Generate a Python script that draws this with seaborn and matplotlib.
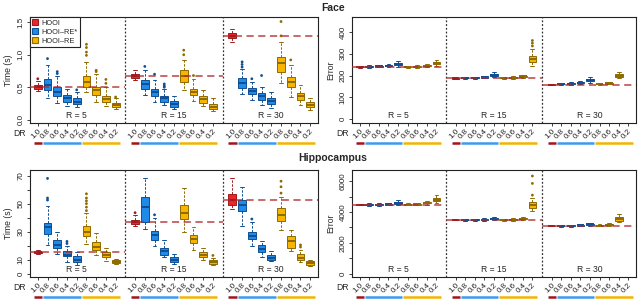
import numpy as np
import pandas as pd
import matplotlib
matplotlib.use("Agg")
import matplotlib.pyplot as plt
import seaborn as sns
from matplotlib.patches import Patch
from matplotlib.transforms import blended_transform_factory

nan = np.nan

# ---------------- categories ----------------
methods = ["HOOI", "HOOI\u2013RE*", "HOOI\u2013RE"]
box_method = [0, 1, 1, 1, 1, 2, 2, 2, 2]
dr_labels = ["1.0", "0.8", "0.6", "0.4", "0.2", "0.8", "0.6", "0.4", "0.2"]
ranks = [5, 15, 30]

# ---------------- Face : time (s) ----------------
face_time_lo = [0.44, 0.33, 0.25, 0.21, 0.19, 0.43, 0.28, 0.21, 0.16,
                0.61, 0.38, 0.28, 0.23, 0.16, 0.46, 0.29, 0.21, 0.14,
                1.195, 0.39, 0.305, 0.23, 0.18, 0.56, 0.355, 0.23, 0.15]
face_time_q1 = [0.47, 0.45, 0.37, 0.28, 0.245, 0.50, 0.38, 0.27, 0.195,
                0.645, 0.47, 0.37, 0.28, 0.20, 0.585, 0.38, 0.265, 0.165,
                1.25, 0.49, 0.39, 0.305, 0.24, 0.74, 0.51, 0.305, 0.19]
face_time_med = [0.50, 0.53, 0.43, 0.33, 0.28, 0.585, 0.45, 0.32, 0.23,
                 0.675, 0.545, 0.42, 0.33, 0.245, 0.67, 0.43, 0.315, 0.20,
                 1.29, 0.56, 0.44, 0.36, 0.29, 0.865, 0.585, 0.36, 0.23]
face_time_q3 = [0.54, 0.62, 0.51, 0.38, 0.33, 0.67, 0.51, 0.37, 0.265,
                0.71, 0.61, 0.47, 0.37, 0.29, 0.76, 0.48, 0.36, 0.245,
                1.34, 0.64, 0.49, 0.41, 0.34, 0.97, 0.66, 0.41, 0.27]
face_time_hi = [0.60, 0.84, 0.68, 0.48, 0.43, 0.89, 0.70, 0.50, 0.33,
                0.76, 0.76, 0.61, 0.48, 0.36, 0.92, 0.62, 0.46, 0.33,
                1.39, 0.78, 0.585, 0.51, 0.42, 1.195, 0.84, 0.53, 0.33]
face_time_fliers = [[0.63], [0.94], [0.71, 0.74], [], [0.46], [0.99, 1.04, 1.11, 1.16], [0.74, 0.76], [0.56, 0.62], [0.35],
                    [], [0.82], [0.70], [0.50, 0.52, 0.55], [], [1.0, 1.07], [0.68], [], [],
                    [], [0.81, 0.85, 0.89], [0.63], [0.68], [], [1.29, 1.51], [0.92], [], []]

# ---------------- Face : error ----------------
face_err_lo = [236, 236, 237, 239, 240, 235, 236, 238, 243,
               185, 185, 186, 187, 192, 185, 186, 190, 245,
               156, 157, 158, 161, 168, 157, 159, 188, nan]
face_err_q1 = [237, 239, 240, 242, 247, 237, 239, 242, 251,
               186, 187, 188, 190, 199, 187, 189, 193, 261,
               157, 159, 161, 165, 175, 159, 162, 195, nan]
face_err_med = [238, 241, 242, 245, 252, 239, 241, 245, 257,
                187, 189, 190, 193, 203, 189, 191, 196, 276,
                158, 161, 163, 168, 180, 161, 165, 200, nan]
face_err_q3 = [239, 243, 244, 248, 257, 241, 243, 248, 263,
               188, 191, 192, 196, 207, 191, 193, 199, 288,
               159, 163, 165, 171, 185, 163, 168, 205, nan]
face_err_hi = [240, 247, 249, 254, 265, 244, 247, 254, 272,
               189, 193, 195, 200, 215, 193, 197, 203, 322,
               160, 166, 169, 176, 192, 165, 172, 218, nan]
face_err_fliers = [[], [], [], [], [], [], [], [], [],
                   [], [], [], [], [], [], [], [], [336, 349, 361],
                   [], [], [], [], [], [], [], [], []]

# ---------------- Hippocampus : time (s) ----------------
hippo_time_lo = [14, 20.6, 14, 8.5, 6, 21, 13, 9, 7,
                 34, 32, 20, 12, 7, 30, 17, 10, 6,
                 46, 34, 20, 12, 9, 31, 16, 8, 5.5]
hippo_time_q1 = [14.6, 28, 18.3, 12.3, 8.3, 27, 17, 11.9, 7.6,
                 35.5, 37, 24.2, 13.5, 8.3, 39, 21.8, 11.9, 6.9,
                 49, 45, 24.7, 15.4, 10, 37.7, 18.3, 9.5, 6]
hippo_time_med = [15.2, 33, 20.5, 13.5, 10, 30, 19, 13, 8.5,
                  37, 47.5, 27.5, 16, 10, 43, 24.5, 13.2, 8.3,
                  52.5, 49, 27, 17.5, 11.5, 42, 23, 11.5, 7.3]
hippo_time_q3 = [15.8, 36.5, 24, 16, 12.3, 34, 22.5, 15.4, 9.6,
                 38.5, 55, 30.6, 18.3, 12, 49, 27.8, 15.4, 9.6,
                 57, 52.7, 29.4, 20.6, 13.5, 46.7, 26.6, 14, 8.8]
hippo_time_hi = [16.6, 48, 29.5, 20, 15.5, 43, 29, 18, 10.5,
                 42, 68, 39.5, 24, 14, 61, 33, 18, 11,
                 68, 62, 37, 23, 16, 55, 31, 17, 9.8]
hippo_time_fliers = [[], [52.5, 54, 68], [], [21.5, 23], [], [45, 47.5, 50, 52, 54, 57], [], [], [],
                     [43.5], [], [42], [], [], [], [], [], [13],
                     [], [], [39], [], [], [57.5, 62, 66], [], [19, 20.5], []]

# ---------------- Hippocampus : error ----------------
hippo_err_lo = [4430, 4400, 4410, 4420, 4430, 4420, 4440, 4470, 4600,
                3450, 3420, 3430, 3440, 3460, 3430, 3440, 3470, 4090,
                3060, 3040, 3050, 3070, 3100, 3060, 3090, 3330, nan]
hippo_err_q1 = [4450, 4440, 4450, 4470, 4520, 4450, 4480, 4550, 4710,
                3465, 3455, 3465, 3475, 3515, 3465, 3480, 3525, 4250,
                3075, 3070, 3085, 3110, 3160, 3095, 3130, 3440, nan]
hippo_err_med = [4467, 4470, 4480, 4500, 4570, 4480, 4510, 4590, 4800,
                 3480, 3480, 3490, 3500, 3550, 3490, 3510, 3560, 4420,
                 3090, 3095, 3110, 3140, 3190, 3120, 3160, 3540, nan]
hippo_err_q3 = [4485, 4500, 4510, 4530, 4620, 4510, 4540, 4640, 4900,
                3495, 3505, 3515, 3530, 3585, 3515, 3540, 3600, 4640,
                3105, 3120, 3135, 3170, 3225, 3145, 3195, 3650, nan]
hippo_err_hi = [4500, 4560, 4570, 4600, 4760, 4560, 4600, 4720, 5070,
                3510, 3550, 3560, 3580, 3660, 3560, 3600, 3680, 4920,
                3120, 3160, 3180, 3230, 3290, 3190, 3260, 3870, nan]
hippo_err_fliers = [[], [], [], [], [], [], [], [], [],
                    [], [], [], [], [], [], [], [], [5090, 5850, 6330],
                    [], [], [], [], [], [], [], [], []]

# ---------------- style ----------------
sns.set_style("ticks")
plt.rcParams["font.family"] = ["Liberation Sans", "DejaVu Sans"]

fills = ["#E8262C", "#1E8BEA", "#F7B500"]
edges = ["#9E1A1E", "#0F4F92", "#8E6A00"]
line_cols = ["#A0141E", "#3A9BEE", "#F2B400"]
XLIM = (0.2, 29.8)
FS = 5.8

fig = plt.figure(figsize=(6.4, 2.99), dpi=100)
W, H = 640.0, 299.0


def add_ax(l, r, t, b):
    return fig.add_axes([l / W, 1 - b / H, (r - l) / W, (b - t) / H])


def draw_panel(ax, lo, q1, med, q3, hi, fliers, ylim, yticks, ylabels, ylabel):
    rows, frows = [], []
    for i in range(27):
        if np.isnan(med[i]):
            continue
        k, j = divmod(i, 9)
        pos = 1 + j + 10 * k
        m = box_method[j]
        for v in (lo[i], q1[i], med[i], q3[i], hi[i]):
            rows.append((pos, v, m))
        for v in fliers[i]:
            frows.append((pos, v, m))
    df = pd.DataFrame(rows, columns=["pos", "val", "method"])
    for m in range(3):
        sub = df[df.method == m]
        step = np.diff(np.unique(sub.pos)).min()
        sns.boxplot(data=sub, x="pos", y="val", native_scale=True, orient="x",
                    whis=(0, 100), width=0.8 / step, color=fills[m],
                    linecolor=edges[m], linewidth=0.7, fliersize=0, saturation=1,
                    medianprops=dict(linewidth=1.4),
                    whiskerprops=dict(linestyle=(0, (2.5, 1.5))), ax=ax)
    if frows:
        fdf = pd.DataFrame(frows, columns=["pos", "val", "method"])
        sns.scatterplot(data=fdf, x="pos", y="val", hue="method",
                        palette={0: edges[0], 1: edges[1], 2: edges[2]},
                        s=4, linewidth=0, legend=False, ax=ax, zorder=3)

    bounds = [XLIM[0], 10, 20, XLIM[1]]
    tr = blended_transform_factory(ax.transData, ax.transAxes)
    for k in range(3):
        ax.hlines(med[9 * k], bounds[k], bounds[k + 1], colors="#B02A2A",
                  alpha=0.75, linewidth=1.3, linestyles=(0, (4, 2.5)), zorder=5)
        ax.text(10 * k + 5, 0.07, f"R = {ranks[k]}", transform=tr,
                ha="center", va="center", fontsize=6.2)
        segs = [(0.6, 1.45, 0), (1.55, 5.45, 1), (5.55, 9.45, 2)]
        for a, b, c in segs:
            ax.plot([10 * k + a, 10 * k + b], [-0.185, -0.185], transform=tr,
                    color=line_cols[c], lw=1.8, clip_on=False, solid_capstyle="butt")
    for xv in (10, 20):
        ax.axvline(xv, color="#333333", lw=0.9, ls=(0, (1.5, 1.5)), zorder=4)

    ax.set_xlim(*XLIM)
    ax.set_ylim(*ylim)
    positions = [1 + j + 10 * k for k in range(3) for j in range(9)]
    ax.set_xticks(positions)
    ax.set_xticklabels(dr_labels * 3, rotation=45, ha="right",
                       rotation_mode="anchor", fontsize=FS)
    ax.set_yticks(yticks)
    ax.set_yticklabels(ylabels, rotation=90, va="center", fontsize=FS)
    ax.tick_params(axis="both", direction="out", length=2.5, width=0.6,
                   pad=1.5, colors="#222222")
    ax.tick_params(axis="x", pad=1.0)
    ax.set_xlabel("")
    ax.set_ylabel(ylabel, fontsize=6.2, labelpad=3)
    for s in ax.spines.values():
        s.set_visible(True)
        s.set_linewidth(0.8)
        s.set_color("#222222")
    ax.text(-0.035, -0.095, "DR", transform=ax.transAxes, ha="center",
            va="center", fontsize=6.2)


ax1 = add_ax(30, 318, 17, 123)
ax2 = add_ax(352, 636, 17, 123)
ax3 = add_ax(30, 318, 170, 277)
ax4 = add_ax(352, 636, 170, 277)

draw_panel(ax1, face_time_lo, face_time_q1, face_time_med, face_time_q3, face_time_hi,
           face_time_fliers, (-0.05, 1.58), [0, 0.5, 1.0, 1.5],
           ["0.0", "0.5", "1.0", "1.5"], "Time (s)")
draw_panel(ax2, face_err_lo, face_err_q1, face_err_med, face_err_q3, face_err_hi,
           face_err_fliers, (-18, 469), [0, 100, 200, 300, 400],
           ["0", "100", "200", "300", "400"], "Error")
draw_panel(ax3, hippo_time_lo, hippo_time_q1, hippo_time_med, hippo_time_q3, hippo_time_hi,
           hippo_time_fliers, (-2.4, 74), [0, 10, 20, 30, 40, 50, 60, 70],
           ["0", "10", "", "30", "", "50", "", "70"], "Time (s)")
draw_panel(ax4, hippo_err_lo, hippo_err_q1, hippo_err_med, hippo_err_q3, hippo_err_hi,
           hippo_err_fliers, (-217, 6720), [0, 1000, 2000, 3000, 4000, 5000, 6000],
           ["0", "", "2000", "", "4000", "", "6000"], "Error")

handles = [Patch(facecolor=fills[m], edgecolor=edges[m], linewidth=0.8, label=methods[m])
           for m in range(3)]
leg = ax1.legend(handles=handles, loc="upper left", bbox_to_anchor=(0, 1),
                 borderaxespad=0, fancybox=False, edgecolor="#222222", framealpha=1,
                 fontsize=5.3, handlelength=0.85, handleheight=0.85, handletextpad=0.45,
                 borderpad=0.3, labelspacing=0.22)
leg.get_frame().set_linewidth(0.8)

fig.text(333 / W, 1 - 8 / H, "Face", ha="center", va="center",
         fontsize=7.5, fontweight="bold")
fig.text(333 / W, 1 - 158 / H, "Hippocampus", ha="center", va="center",
         fontsize=7.5, fontweight="bold")

fig.savefig("out.png", dpi=100)
